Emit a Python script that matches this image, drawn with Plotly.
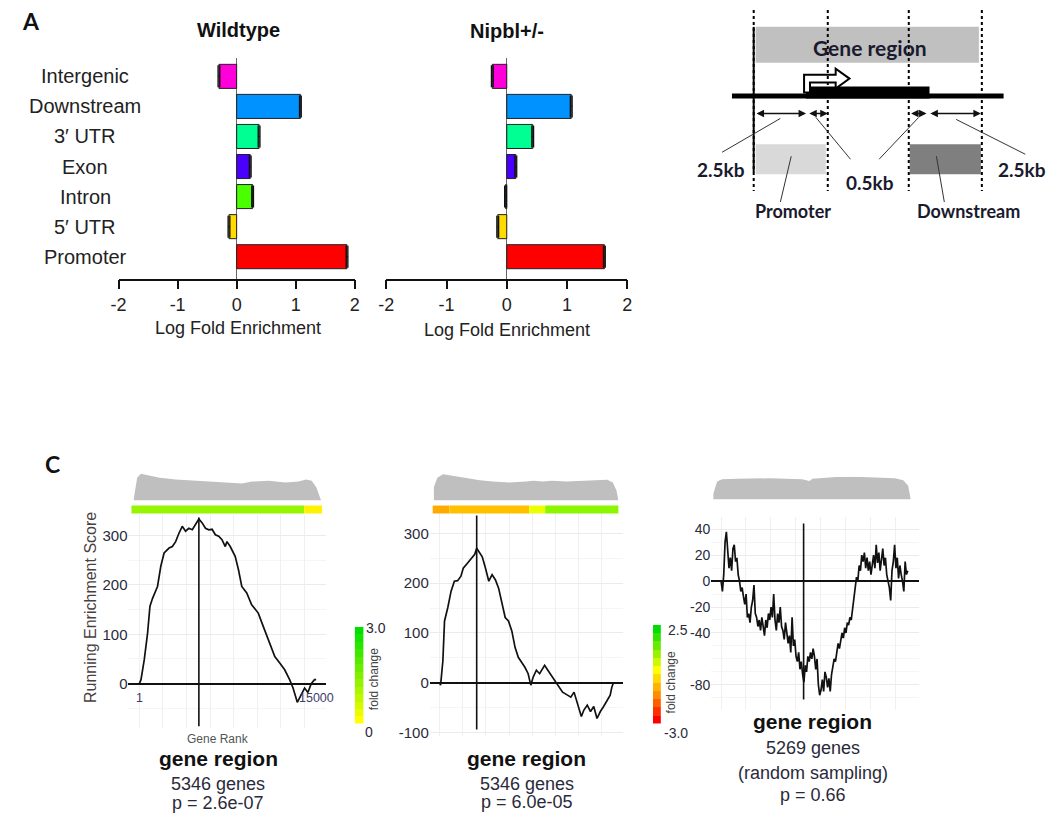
import plotly.graph_objects as go

W, H = 1055, 824


def PX(x):
    return x / W


def PY(y):
    return 1 - y / H


# ---------------- Panel A data ----------------
categories = ["Promoter", "5\u2032 UTR", "Intron", "Exon", "3\u2032 UTR", "Downstream", "Intergenic"]
bar_colors = ["#FF0000", "#FFDB00", "#49FF00", "#4900FF", "#00FF92", "#0092FF", "#FF00DB"]
wildtype_lfe = [1.87, -0.13, 0.27, 0.23, 0.38, 1.08, -0.30]
wildtype_err = [0.015, 0.015, 0.015, 0.015, 0.015, 0.015, 0.015]
nipbl_lfe = [1.62, -0.15, -0.02, 0.15, 0.43, 1.07, -0.24]
nipbl_err = [0.015, 0.015, 0.015, 0.015, 0.015, 0.015, 0.015]
lfe_ticks = [-2, -1, 0, 1, 2]
lfe_ticktext = ["-2", "-1", "0", "1", "2"]

# ---------------- Panel C data ----------------
c1_rank = [1, 140, 420, 700, 900, 1120, 1540, 1820, 2100, 2520, 2800, 3080, 3360, 3640, 3920,
           4200, 4490, 4770, 5050, 5330, 5610, 5890, 6170, 6450, 6730, 7010, 7290, 7430, 7710,
           8130, 8410, 8690, 9110, 9530, 10090, 10510, 10930, 11490, 11910, 12330, 12750, 13040,
           13400, 13740, 14020, 14300, 14580, 14860, 15000]
c1_score = [0, 8, 49, 103, 157, 173, 197, 238, 265, 275, 278, 288, 305, 319, 309,
            315, 312, 322, 334, 326, 315, 312, 313, 302, 299, 292, 278, 288, 278,
            258, 231, 197, 184, 160, 143, 116, 89, 55, 42, 28, 8, -9,
            -38, -22, -9, -18, 0, 8, 8]
c1_peak_rank = 5050

c2_rank = [1, 85, 283, 425, 708, 990, 1273, 1556, 1840, 2040, 2400, 2770, 3030, 3200, 3400,
           3680, 3960, 4245, 4530, 4810, 5090, 5380, 5660, 5940, 6230, 6510, 6790, 7075, 7360,
           7640, 7870, 8070, 8350, 8630, 9060, 9340, 9620, 10050, 10330, 10610, 11040, 11320,
           11600, 11890, 12230, 12450, 12740, 13020, 13300, 13580, 13870, 14150, 14430, 14720,
           14860, 15000]
c2_score = [0, -5, 44, 124, 151, 184, 204, 205, 214, 230, 240, 250, 258, 270, 263,
            253, 230, 204, 217, 207, 190, 157, 131, 124, 104, 71, 51, 41, 31,
            18, -5, 11, 25, 18, 35, 25, 15, 1, -9, -19, -25, -29,
            -19, -42, -68, -55, -45, -58, -48, -72, -58, -48, -38, -25,
            -9, 0]
c2_peak_rank = 3200

# running score sampled at evenly spaced gene ranks (1 ... 15000)
c3_score = [0, -8, 5, 30, 38, 20, 10, 18, 8, 25,
            28, 15, 18, 5, 0, -8, -5, -12, -18, -10,
            -28, -25, -32, -20, -15, -3, -25, -28, -35, -30,
            -38, -28, -35, -42, -30, -36, -25, -30, -20, -28,
            -10, -30, -38, -25, -32, -20, -35, -38, -45, -32,
            -40, -48, -42, -55, -28, -50, -45, -58, -62, -55,
            -68, -62, -72, -78, -65, -70, -58, -62, -55, -60,
            -52, -58, -68, -60, -80, -88, -84, -76, -85, -70,
            -74, -82, -75, -85, -72, -66, -60, -62, -55, -48,
            -52, -45, -40, -44, -36, -40, -32, -34, -28, -30,
            -22, -12, -5, 3, 0, 12, 8, 20, 15, 22,
            10, 18, 8, 15, 5, 12, 20, 10, 28, 14,
            22, 8, 18, 25, 12, 18, 5, 0, -5, -15,
            8, 15, 28, 10, 18, 2, 12, 5, 0, -8,
            15, 5, 8]
c3_first_rank, c3_last_rank = 1, 15000
c3_rank = [c3_first_rank + i * (c3_last_rank - c3_first_rank) / (len(c3_score) - 1)
           for i in range(len(c3_score))]
c3_split_rank = 6630

rank_ticks = [1, 15000]
c1_yticks = [0, 100, 200, 300]
c2_yticks = [-100, 0, 100, 200, 300]
c3_yticks = [-80, -40, -20, 0, 20, 40]

# gene-position density profiles (fraction along strip, relative height)
c1_dens_x = [0, 0.02, 0.04, 0.14, 0.225, 0.31, 0.42, 0.49, 0.58, 0.63, 0.72, 0.81, 0.88, 0.92, 0.95, 0.975, 0.99, 1.0]
c1_dens_y = [0, 0.82, 0.96, 0.82, 0.76, 0.73, 0.68, 0.65, 0.61, 0.68, 0.71, 0.65, 0.68, 0.76, 0.71, 0.47, 0.18, 0]
c2_dens_x = [0, 0, 0.02, 0.05, 0.11, 0.18, 0.25, 0.32, 0.41, 0.5, 0.54, 0.59, 0.64, 0.72, 0.79, 0.86, 0.94, 0.97, 0.99, 1.0]
c2_dens_y = [0, 0.47, 0.82, 0.94, 0.88, 0.8, 0.73, 0.68, 0.65, 0.68, 0.71, 0.68, 0.71, 0.68, 0.71, 0.73, 0.75, 0.65, 0.35, 0]
c3_dens_x = [0, 0, 0.02, 0.045, 0.12, 0.29, 0.45, 0.487, 0.503, 0.62, 0.72, 0.82, 0.92, 0.962, 0.987, 1.0]
c3_dens_y = [0, 0.24, 0.79, 0.89, 0.91, 0.93, 0.89, 0.81, 0.91, 0.99, 1.0, 0.96, 0.93, 0.84, 0.6, 0]

# fold-change colour strips under density
c1_band_breaks = [0, 0.907, 1.0]
c1_band_colors = ["#96f500", "#fff200"]
c2_band_breaks = [0, 0.09, 0.52, 0.606, 1.0]
c2_band_colors = ["#ffaa00", "#ffc000", "#eaff00", "#8cf500"]

# fold-change legends
fc_levels_c2 = [0.0, 0.25, 0.5, 0.75, 1.0, 1.25, 1.5, 1.75, 2.0, 2.25, 2.5, 2.75, 3.0]
fc_levels_c3 = [-3.0, -2.5, -2.0, -1.5, -1.0, -0.5, 0.0, 0.5, 1.0, 1.5, 2.0, 2.5]

TXT = "#222222"
SANS = "Liberation Sans"
CAL = "Lato"

fig = go.Figure()

# ---------------- Panel A bars ----------------
fig.add_trace(go.Bar(y=categories, x=wildtype_lfe, orientation="h", width=0.8,
                     marker=dict(color=bar_colors, line=dict(color="#222", width=1)),
                     error_x=dict(type="data", array=wildtype_err, color="#111", thickness=1.3, width=11),
                     xaxis="x", yaxis="y", hoverinfo="skip"))
fig.add_trace(go.Bar(y=categories, x=nipbl_lfe, orientation="h", width=0.8,
                     marker=dict(color=bar_colors, line=dict(color="#222", width=1)),
                     error_x=dict(type="data", array=nipbl_err, color="#111", thickness=1.3, width=11),
                     xaxis="x2", yaxis="y2", hoverinfo="skip"))

# ---------------- Panel C density strips ----------------
for xs, ys, ax in [(c1_dens_x, c1_dens_y, "3"), (c2_dens_x, c2_dens_y, "4"), (c3_dens_x, c3_dens_y, "5")]:
    fig.add_trace(go.Scatter(x=xs, y=ys, mode="lines", fill="toself", fillcolor="#bfbfbf",
                             line=dict(width=0, color="#bfbfbf"), xaxis="x" + ax, yaxis="y" + ax,
                             hoverinfo="skip"))

# ---------------- Panel C curves ----------------
for xs, ys, ax in [(c1_rank, c1_score, "6"), (c2_rank, c2_score, "7"), (c3_rank, c3_score, "8")]:
    fig.add_trace(go.Scatter(x=xs, y=ys, mode="lines", line=dict(color="#111", width=1.7),
                             xaxis="x" + ax, yaxis="y" + ax, hoverinfo="skip"))

# ---------------- legends (heatmaps) ----------------
fig.add_trace(go.Heatmap(x=[0], y=fc_levels_c2, z=[[v] for v in fc_levels_c2],
                         colorscale=[[0, "#ffff00"], [1, "#00e000"]], showscale=False,
                         xaxis="x9", yaxis="y9", hoverinfo="skip"))
fig.add_trace(go.Heatmap(x=[0], y=fc_levels_c3, z=[[v] for v in fc_levels_c3],
                         colorscale=[[0, "#ff0000"], [0.27, "#ff8c00"], [0.545, "#ffff00"], [1, "#00dd00"]],
                         showscale=False, xaxis="x10", yaxis="y10", hoverinfo="skip"))

shapes = []
annotations = []


def txt(x, y, s, size, color=TXT, family=SANS, bold=False, angle=0, xanchor="center",
        xref="paper", yref="paper"):
    annotations.append(dict(
        x=PX(x) if xref == "paper" else x,
        y=PY(y) if yref == "paper" else y,
        xref=xref, yref=yref, text=s, showarrow=False, textangle=angle,
        xanchor=xanchor, yanchor="middle",
        font=dict(size=size, color=color, family=family, weight="bold" if bold else "normal")))


def rect(x0, y0, x1, y1, fill, line_w=0, line_c="black"):
    shapes.append(dict(type="rect", xref="paper", yref="paper", x0=PX(x0), x1=PX(x1),
                       y0=PY(y1), y1=PY(y0), fillcolor=fill, line=dict(width=line_w, color=line_c),
                       layer="above"))


def seg(x0, y0, x1, y1, w=1, c="#333", dash="solid"):
    shapes.append(dict(type="line", xref="paper", yref="paper", x0=PX(x0), y0=PY(y0),
                       x1=PX(x1), y1=PY(y1), line=dict(width=w, color=c, dash=dash)))


# ---------------- Panel A text ----------------
txt(23, 21, "A", 23, family=CAL, bold=True, color="#111")
txt(233, 30, "Wildtype", 20, bold=True, color="#111")
txt(505, 31, "Nipbl+/-", 20, bold=True, color="#111")
txt(233, 330, "Log Fold Enrichment", 18)
txt(505, 332, "Log Fold Enrichment", 18)
for cat in categories:
    txt(78, cat, cat, 20, yref="y")

# ---------------- gene region schematic ----------------
DCOL = "#1a1a2e"
rect(757, 27, 983, 63, "#c0c0c0")
rect(757, 145, 828, 175, "#d9d9d9")
rect(913, 145, 985, 175, "#7f7f7f")
rect(733, 94, 1008, 99, "black")
rect(808, 87, 933, 99, "black")
arrow_pts = [(806, 93), (806, 75), (838, 75), (838, 69), (852, 79), (838, 89), (838, 83), (812, 83), (812, 93)]
path = "M " + " L ".join(f"{PX(a):.5f},{PY(b):.5f}" for a, b in arrow_pts) + " Z"
shapes.append(dict(type="path", xref="paper", yref="paper", path=path, fillcolor="white",
                   line=dict(color="black", width=2)))
seg(755, 27, 755, 173, w=2, c="black")
for xv in [755, 830, 912, 986]:
    seg(xv, 10, xv, 192, w=2, c="black", dash="dot")
seg(723, 153, 782, 119)
seg(853, 160, 818, 118)
seg(882, 160, 922, 118)
seg(1030, 155, 960, 120)
seg(793, 157, 782, 203)
seg(940, 157, 948, 203)
for x0, x1 in [(757, 808), (810, 830), (913, 930), (933, 985)]:
    annotations.append(dict(x=PX(x1), y=PY(114), xref="paper", yref="paper", ax=x0 - x1, ay=0,
                            axref="pixel", ayref="pixel", text="", showarrow=True,
                            arrowhead=2, startarrowhead=2, arrowside="end+start", arrowsize=1,
                            startarrowsize=1, arrowwidth=1.5, arrowcolor="#111"))
txt(873, 48, "Gene region", 21, family=CAL, bold=True, color=DCOL)
txt(722, 170, "2.5kb", 19, family=CAL, bold=True, color=DCOL)
txt(873, 183, "0.5kb", 19, family=CAL, bold=True, color=DCOL)
txt(1027, 170, "2.5kb", 19, family=CAL, bold=True, color=DCOL)
txt(795, 212, "Promoter", 18, family=CAL, bold=True, color=DCOL)
txt(972, 212, "Downstream", 18, family=CAL, bold=True, color=DCOL)

# ---------------- Panel C decorations ----------------
txt(45, 466, "C", 23, family=CAL, bold=True, color="#111")


def bands(breaks, colors, xa, xb, ya, yb):
    for i, col in enumerate(colors):
        shapes.append(dict(type="rect", xref="paper", yref="paper",
                           x0=PX(xa + breaks[i] * (xb - xa)), x1=PX(xa + breaks[i + 1] * (xb - xa)),
                           y0=PY(yb), y1=PY(ya), fillcolor=col, line=dict(width=0)))


bands(c1_band_breaks, c1_band_colors, 125, 318, 508, 516)
bands(c2_band_breaks, c2_band_colors, 430, 618, 508, 516)

for xr, xv, y0, y1 in [("x6", c1_peak_rank, 0.01, 0.99), ("x7", c2_peak_rank, 0.031, 0.987),
                       ("x8", c3_split_rank, 0.052, 0.969)]:
    yr = "y" + xr[1:] + " domain"
    shapes.append(dict(type="line", xref=xr, yref=yr, x0=xv, x1=xv, y0=y0, y1=y1,
                       line=dict(color="#111", width=1.6)))

CT = "#2a2a3a"
txt(83, 610, "Running Enrichment Score", 16, color="#4a3f3f", angle=-90)
for rv, lab in zip(rank_ticks, ["1", "15000"]):
    annotations.append(dict(x=rv, y=PY(710), xref="x6", yref="paper", text=lab, showarrow=False,
                            font=dict(size=12.5, color="#3d3d66", family=SANS)))
txt(213, 743, "Gene Rank", 12, color="#555")
txt(213, 762, "gene region", 21, bold=True, color="#111")
txt(213, 788, "5346 genes", 18, color=CT)
txt(213, 807, "p = 2.6e-07", 18, color=CT)

txt(525, 762, "gene region", 21, bold=True, color="#111")
txt(525, 788, "5346 genes", 18, color=CT)
txt(525, 806, "p = 6.0e-05", 18, color=CT)

txt(815, 725, "gene region", 21, bold=True, color="#111")
txt(815, 752, "5269 genes", 18, color=CT)
txt(815, 777, "(random sampling)", 18, color=CT)
txt(815, 799, "p = 0.66", 18, color=CT)

txt(373, 631, "3.0", 14, color=CT)
txt(366, 736, "0", 14, color=CT)
txt(370, 682, "fold change", 12, color="#444", angle=-90)
txt(678, 633, "2.5", 14, color=CT)
txt(676, 737, "-3.0", 14, color=CT)
txt(671, 686, "fold change", 12, color="#444", angle=-90)

# ---------------- axes ----------------
bar_y = dict(domain=[PY(280), PY(58)], range=[-0.73, 6.62], type="category",
             categoryorder="array", categoryarray=categories, showticklabels=False,
             showgrid=False, zeroline=False, showline=False, ticks="", fixedrange=True)


def bar_x(dom, anchor):
    return dict(domain=dom, range=[-2, 2], anchor=anchor, tickvals=lfe_ticks, ticktext=lfe_ticktext,
                ticks="outside", ticklen=9, tickwidth=1.5, tickcolor="#111", showline=True,
                linewidth=1.5, linecolor="#111", showgrid=False, zeroline=True,
                zerolinecolor="#666", zerolinewidth=1.2,
                tickfont=dict(size=18, color=TXT, family=SANS), fixedrange=True)


def hidden(dom_x, dom_y, rx, ry, anchor_x, anchor_y):
    xa = dict(domain=dom_x, visible=False, anchor=anchor_y, fixedrange=True)
    ya = dict(domain=dom_y, visible=False, anchor=anchor_x, fixedrange=True)
    if rx is not None:
        xa["range"] = rx
    if ry is not None:
        ya["range"] = ry
    return xa, ya


def curve_axes(dom_x, dom_y, rx, ry, yt, anchor_x, anchor_y, minor_dt, fsize):
    xa = dict(domain=dom_x, range=rx, anchor=anchor_y, showticklabels=False, ticks="",
              showgrid=True, gridcolor="#f0f0f0", dtick=2000, tick0=0, zeroline=False,
              showline=False, fixedrange=True)
    ya = dict(domain=dom_y, range=ry, anchor=anchor_x, tickvals=yt, ticktext=[str(v) for v in yt],
              ticks="", showgrid=True, gridcolor="#ebebeb", zeroline=True, zerolinecolor="#111",
              zerolinewidth=1.5, showline=False, tickfont=dict(size=fsize, color=CT, family=SANS),
              minor=dict(tickmode="linear", tick0=0, dtick=minor_dt, showgrid=True, gridcolor="#f5f5f5"),
              fixedrange=True)
    return xa, ya


x3, y3 = hidden([PX(127), PX(317)], [PY(503), PY(475)], [0, 1], [0, 1], "x3", "y3")
x4, y4 = hidden([PX(431), PX(618)], [PY(503), PY(475)], [0, 1], [0, 1], "x4", "y4")
x5, y5 = hidden([PX(714), PX(914)], [PY(502), PY(479)], [0, 1], [0, 1], "x5", "y5")
x6, y6 = curve_axes([PX(122), PX(322)], [PY(732), PY(518)], [-921, 15838], [-91, 341], c1_yticks, "x6", "y6", 50, 15)
x7, y7 = curve_axes([PX(427), PX(623)], [PY(740), PY(515)], [-851, 15852], [-108, 342], c2_yticks, "x7", "y7", 50, 15)
x8, y8 = curve_axes([PX(712), PX(922)], [PY(713), PY(520)], [-793, 15873], [-99, 49], c3_yticks, "x8", "y8", 10, 14)
x9, y9 = hidden([PX(351), PX(360)], [PY(727), PY(630)], None, None, "x9", "y9")
x10, y10 = hidden([PX(653), PX(661)], [PY(727), PY(628)], None, None, "x10", "y10")

fig.update_layout(
    width=W, height=H, margin=dict(l=0, r=0, t=0, b=0),
    paper_bgcolor="white", plot_bgcolor="white", showlegend=False,
    xaxis=bar_x([PX(112), PX(351)], "y"),
    yaxis=dict(bar_y, anchor="x"),
    xaxis2=bar_x([PX(383), PX(627)], "y2"),
    yaxis2=dict(bar_y, anchor="x2"),
    xaxis3=x3, yaxis3=y3, xaxis4=x4, yaxis4=y4, xaxis5=x5, yaxis5=y5,
    xaxis6=x6, yaxis6=y6, xaxis7=x7, yaxis7=y7, xaxis8=x8, yaxis8=y8,
    xaxis9=x9, yaxis9=y9, xaxis10=x10, yaxis10=y10,
    shapes=shapes, annotations=annotations, bargap=0.2,
)

fig.write_html("out.html", config={"displayModeBar": False},
               post_script="document.body.style.margin='0';document.body.style.overflow='hidden';"
                           "document.documentElement.style.overflow='hidden';")
